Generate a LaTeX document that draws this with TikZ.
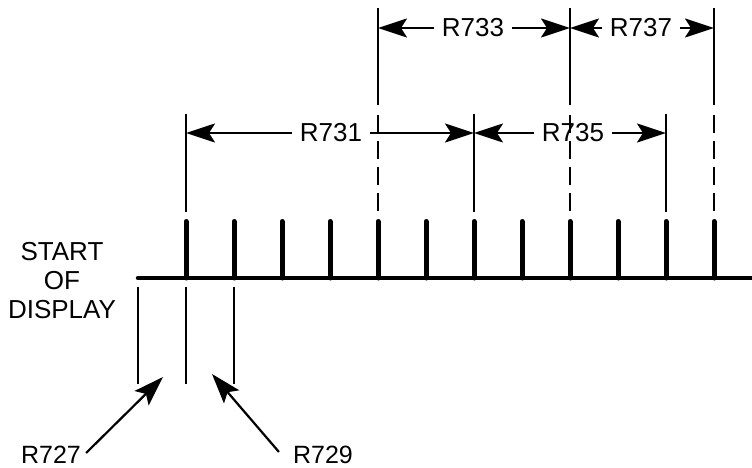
\documentclass[tikz,border=0pt]{standalone}
\usepackage{fontspec}
\setmainfont{Liberation Sans}
\usetikzlibrary{arrows.meta}
\begin{document}
\begin{tikzpicture}[x=1pt,y=-1pt,
  lbl/.style={font=\fontsize{26}{29}\selectfont, inner xsep=8pt, inner ysep=0pt},
  plainlbl/.style={font=\fontsize{25}{29}\selectfont, inner sep=0pt},
  dim/.style={line width=2.2pt, -{Stealth[length=29pt,width=19pt,inset=6pt]}},
  ext/.style={line width=2pt},
  extdash/.style={line width=2pt, dash pattern=on 18pt off 8pt},
  tickmark/.style={line width=5pt, line cap=round},
  axis/.style={line width=4.5pt, line cap=round},
  ptr/.style={line width=2.2pt, -{Stealth[length=30pt,width=20pt,inset=6pt]}}]
\useasboundingbox (0,0) rectangle (752,468);

% baseline and ticks
\coordinate (axL) at (138,278);
\coordinate (axR) at (756,278);
\draw[axis] (axL) -- (axR);
\foreach \k in {0,...,11}{
  \draw[tickmark] ({186+48*\k},278) -- ({186+48*\k},221.5);
}

% extension lines (long, solid top + dashed bottom)
\foreach \xx in {378,570,714}{
  \draw[ext] (\xx,8) -- (\xx,105);
  \draw[extdash] (\xx,115) -- (\xx,211);
}
% extension lines (short, solid)
\foreach \xx in {186,474,666}{
  \draw[ext] (\xx,114) -- (\xx,212);
}
% lower lines
\foreach \xx in {138,186,234}{
  \draw[ext] (\xx,287) -- (\xx,384);
}

% dimension labels
\node[lbl] (t733) at (473,28) {R733};
\node[lbl] (t737) at (641,28) {R737};
\node[lbl] (t731) at (331,133) {R731};
\node[lbl] (t735) at (573,133) {R735};

\coordinate (d733l) at (378,28);
\coordinate (d733r) at (570,28);
\coordinate (d737l) at (570,28);
\coordinate (d737r) at (714,28);
\coordinate (d731l) at (186,133);
\coordinate (d731r) at (474,133);
\coordinate (d735l) at (474,133);
\coordinate (d735r) at (666,133);

\draw[dim] (t733.west) -- (d733l);
\draw[dim] (t733.east) -- (d733r);
\draw[dim] (t737.west) -- (d737l);
\draw[dim] (t737.east) -- (d737r);
\draw[dim] (t731.west) -- (d731l);
\draw[dim] (t731.east) -- (d731r);
\draw[dim] (t735.west) -- (d735l);
\draw[dim] (t735.east) -- (d735r);

% start of display
\node[font=\fontsize{26}{29}\selectfont, align=center, inner sep=0pt] (start) at (62,281) {START\\OF\\DISPLAY};

% bottom labels and pointers
\node[plainlbl] (r727) at (51,455) {R727};
\node[plainlbl] (r729) at (323,455) {R729};
\coordinate (p727) at (163,377);
\coordinate (p729) at (212,374);
\draw[ptr] ([shift={(5pt,2pt)}]r727.east) -- (p727);
\draw[ptr] ([shift={(-14pt,-6pt)}]r729.north west) -- (p729);
\end{tikzpicture}
\end{document}
